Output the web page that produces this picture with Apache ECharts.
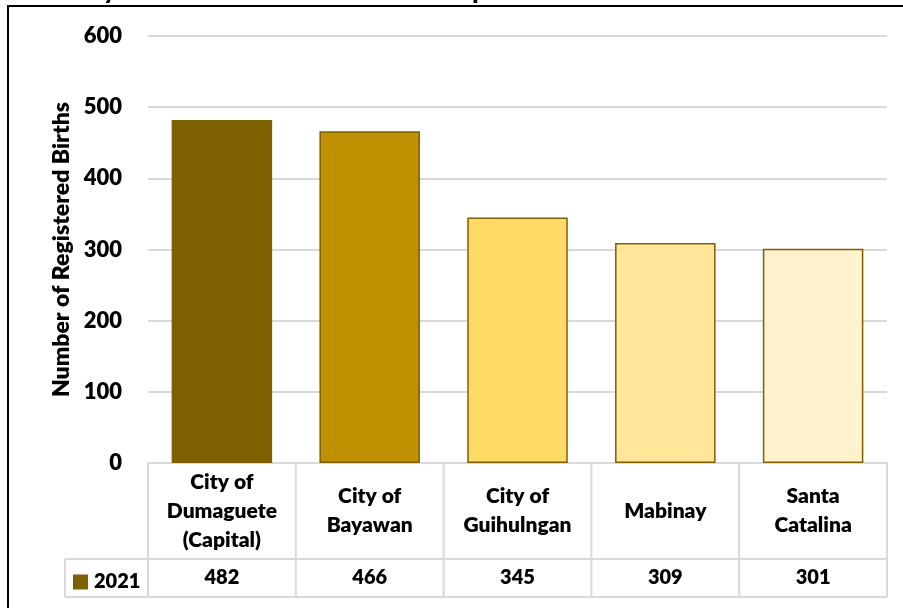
<!DOCTYPE html>
<html>
<head>
<meta charset="utf-8">
<script src="https://cdn.jsdelivr.net/npm/echarts@6/dist/echarts.min.js"></script>
<style>
html,body{margin:0;padding:0;background:#fff;}
#chart{width:903px;height:608px;}
</style>
</head>
<body>
<div id="chart"></div>
<script>
const categories = ['City of\nDumaguete\n(Capital)', 'City of\nBayawan', 'City of\nGuihulngan', 'Mabinay', 'Santa\nCatalina'];
const values = [482, 466, 345, 309, 301];
const barColors = ['#7F6000', '#BF9000', '#FFD966', '#FFE699', '#FFF2CC'];
const seriesName = '2021';
const yAxisName = 'Number of Registered Births';
const titleText = 'City with the Most Number of Births per Town';

const FONT = 'Lato, "Open Sans", sans-serif';
const W = 800;
const chart = echarts.init(document.getElementById('chart'), null, {renderer: 'canvas'});

const option = {
  backgroundColor: '#fff',
  animation: false,
  grid: {left: 148, right: 16, top: 36, bottom: 145, containLabel: false},
  legend: {
    data: [seriesName],
    left: 68, top: 567,
    icon: 'rect', itemWidth: 13, itemHeight: 13, itemGap: 0,
    textStyle: {fontFamily: FONT, fontWeight: W, fontSize: 20, color: '#000', padding: [0, 0, 0, 2]},
    selectedMode: false
  },
  xAxis: [{
    type: 'category',
    data: categories,
    axisLine: {show: true, lineStyle: {color: '#D9D9D9', width: 2}},
    axisTick: {show: false},
    axisLabel: {
      interval: 0, margin: 48, verticalAlign: 'middle', lineHeight: 29,
      fontFamily: FONT, fontWeight: W, fontSize: 21, color: '#000'
    }
  }, {
    type: 'category',
    position: 'bottom',
    data: categories,
    axisLine: {show: false},
    axisTick: {show: false},
    axisLabel: {
      interval: 0, margin: 115, verticalAlign: 'middle',
      fontFamily: FONT, fontWeight: W, fontSize: 20, color: '#000',
      formatter: function (v, i) { return String(values[i]); }
    }
  }],
  yAxis: {
    type: 'value', min: 0, max: 600, interval: 100,
    name: yAxisName, nameLocation: 'middle', nameRotate: 90, nameGap: 72,
    nameTextStyle: {fontFamily: FONT, fontWeight: W, fontSize: 23, color: '#000'},
    axisLine: {show: false}, axisTick: {show: false},
    axisLabel: {margin: 26, fontFamily: FONT, fontWeight: W, fontSize: 22, color: '#000'},
    splitLine: {show: true, lineStyle: {color: '#D9D9D9', width: 2}}
  },
  series: [{
    name: seriesName,
    type: 'bar',
    xAxisIndex: 0,
    barWidth: '68%',
    itemStyle: {color: barColors[0], borderColor: '#7F6000', borderWidth: 1.5},
    data: values.map((v, i) => ({value: v, itemStyle: {color: barColors[i]}}))
  }]
};
chart.setOption(option);

// Data table lines computed from the category axis scale
const centers = categories.map((c, i) => chart.convertToPixel({xAxisIndex: 0}, i));
const w = centers[1] - centers[0];
const left = centers[0] - w / 2;
const right = centers[centers.length - 1] + w / 2;
const y0 = chart.convertToPixel({yAxisIndex: 0}, 0);
const rowMid = y0 + 96;
const rowBottom = y0 + 134;
const legendLeft = 65;
const lineStyle = {stroke: '#D9D9D9', lineWidth: 2};
const g = [];
for (let i = 0; i <= categories.length; i++) {
  const x = left + i * w;
  g.push({type: 'line', shape: {x1: x, y1: y0, x2: x, y2: rowBottom}, style: lineStyle, silent: true});
}
g.push({type: 'line', shape: {x1: legendLeft, y1: rowMid, x2: right, y2: rowMid}, style: lineStyle, silent: true});
g.push({type: 'line', shape: {x1: legendLeft, y1: rowBottom, x2: right, y2: rowBottom}, style: lineStyle, silent: true});
g.push({type: 'line', shape: {x1: legendLeft, y1: rowMid, x2: legendLeft, y2: rowBottom}, style: lineStyle, silent: true});
// outer frame
g.push({type: 'rect', shape: {x: 8, y: 6, width: 905, height: 700}, style: {fill: 'none', stroke: '#000', lineWidth: 2}, silent: true, z: 100});
// title (mostly clipped above the canvas)
g.push({type: 'text', x: 72, y: -9, style: {text: titleText, fontFamily: FONT, fontWeight: W, fontSize: 24, fill: '#000', verticalAlign: 'middle', align: 'left'}, silent: true, z: 100});
chart.setOption({graphic: g});
</script>
</body>
</html>
